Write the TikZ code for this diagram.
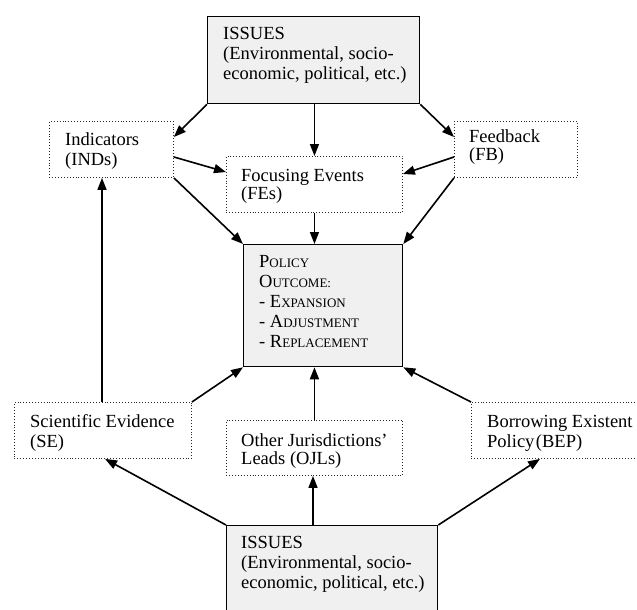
\documentclass[tikz,border=0pt]{standalone}
\usepackage{fontspec}
\setmainfont{Liberation Serif}
\usetikzlibrary{arrows.meta,calc}
\newcommand\fakesc[2]{#1{\fontsize{13}{20}\selectfont #2}}
\begin{document}
\begin{tikzpicture}[x=1pt,y=-1pt,
  issuebox/.style={draw=black, line width=1.3pt, fill=gray!12, inner sep=0pt, anchor=north west},
  dotbox/.style={draw=black!85, dotted, line width=0.9pt, inner sep=0pt, anchor=north west},
  txt/.style={anchor=north west, inner sep=0pt, align=left, font=\fontsize{18.5}{20}\selectfont},
  txtn/.style={txt, font=\fontsize{18.5}{18.5}\selectfont},
  arr/.style={line width=1.6pt, -{Triangle[length=12pt,width=9pt]}},
  ln/.style={line width=1.6pt}]
\useasboundingbox (0,0) rectangle (637,610);
\clip (0,0) rectangle (637,610);
\fill[white] (0,0) rectangle (637,610);
% boxes
\node[issuebox, minimum width=212pt, minimum height=87pt] (top) at (207,16) {};
\node[dotbox, minimum width=124pt, minimum height=56pt] (ind) at (49,121) {};
\node[dotbox, minimum width=176pt, minimum height=56pt] (fe) at (226,156) {};
\node[dotbox, minimum width=123pt, minimum height=56pt] (fb) at (454,121) {};
\node[issuebox, minimum width=159pt, minimum height=122pt] (pol) at (243,244) {};
\node[dotbox, minimum width=177pt, minimum height=56pt] (se) at (14,402) {};
\node[dotbox, minimum width=176pt, minimum height=55pt] (oj) at (226,420) {};
\node[dotbox, minimum width=180pt, minimum height=56pt] (bep) at (471,402) {};
\node[issuebox, minimum width=211pt, minimum height=100pt] (bot) at (226,525) {};
% texts
\node[txt] (topt) at ($(top.north west)+(16,10)$) {\rule{0pt}{13pt}ISSUES\\(Environmental, socio-\\economic, political, etc.)};
\node[txt] (indt) at ($(ind.north west)+(16,11)$) {\rule{0pt}{13pt}Indicators\\(INDs)};
\node[txtn] (fet) at ($(fe.north west)+(15,12)$) {\rule{0pt}{13pt}Focusing Events\\(FEs)};
\node[txtn] (fbt) at ($(fb.north west)+(15,8)$) {\rule{0pt}{13pt}Feedback\\(FB)};
\node[txt] (polt) at ($(pol.north west)+(16,10)$) {\rule{0pt}{13pt}\fakesc{P}{OLICY}\\\fakesc{O}{UTCOME:}\\- \fakesc{E}{XPANSION}\\- \fakesc{A}{DJUSTMENT}\\- \fakesc{R}{EPLACEMENT}};
\node[txt] (set) at ($(se.north west)+(16,12)$) {\rule{0pt}{13pt}Scientific Evidence\\(SE)};
\node[txtn] (ojt) at ($(oj.north west)+(15,13)$) {\rule{0pt}{13pt}Other Jurisdictions’\\Leads (OJLs)};
\node[txt] (bept) at ($(bep.north west)+(16,12)$) {\rule{0pt}{13pt}Borrowing Existent\\Policy\kern1.5pt(BEP)};
\node[txt] (bott) at ($(bot.north west)+(15,10)$) {\rule{0pt}{13pt}ISSUES\\(Environmental, socio-\\economic, political, etc.)};
% helper coordinates
\coordinate (seup) at ($(se.north west)+(88,0)$);
\coordinate (botup) at ($(bot.north west)+(87,0)$);
% connectors (top part)
\draw[arr] (top.south west) -- ($(ind.north east)+(0,16)$);
\draw[arr] (fe.north |- top.south) -- (fe.north);
\draw[arr] (top.south east) -- ($(fb.north west)+(0,16)$);
\draw[arr] ($(ind.north east)+(0,36)$) -- ($(fe.north west)+(0,16)$);
\draw[arr] ($(fb.north west)+(0,36)$) -- ($(fe.north east)+(0,18)$);
\draw[arr] (ind.south east) -- (pol.north west);
\draw[arr] (fe.south) -- (fe.south |- pol.north);
\draw[arr] (fb.south west) -- (pol.north east);
% connectors (bottom part)
\draw[arr] (seup) -- (seup |- ind.south);
\draw[arr] (se.north east) -- (pol.south west);
\draw[arr] (oj.north) -- (oj.north |- pol.south);
\draw[arr] (bep.north west) -- (pol.south east);
\draw[arr] (bot.north west) -- ($(se.south west)+(91,0)$);
\draw[arr] (botup) -- (botup |- oj.south);
\draw[arr] (bot.north east) -- ($(bep.south west)+(69,0)$);
\end{tikzpicture}
\end{document}
